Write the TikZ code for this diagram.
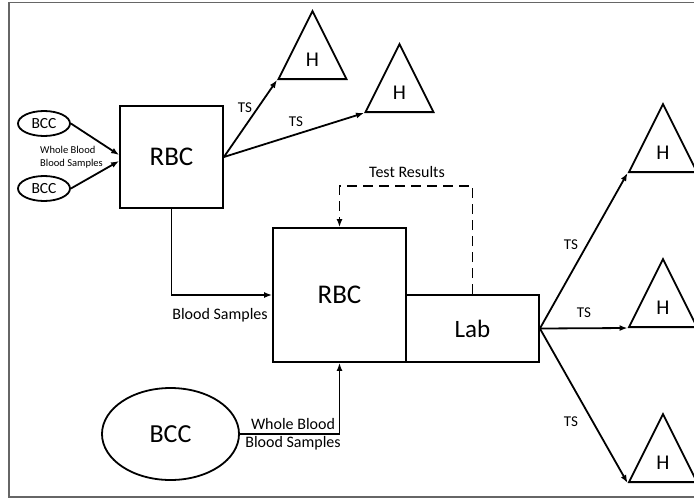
\documentclass[tikz,border=0pt]{standalone}
\usepackage{fontspec}
\setmainfont{Carlito}
\usepackage{tikz}
\usetikzlibrary{arrows.meta,positioning,shapes.geometric,calc}

\begin{document}
\begin{tikzpicture}[x=1pt,y=-1pt, line width=1.8pt,
  every node/.style={font=\fontsize{15}{17}\selectfont},
  box/.style={draw, rectangle, inner sep=0pt, font=\fontsize{27}{29}\selectfont},
  bcc/.style={draw, ellipse, inner sep=0pt},
  hosp/.style={draw, isosceles triangle, shape border rotate=90, isosceles triangle stretches, minimum width=68pt, minimum height=68pt, inner sep=0pt, anchor=lower side, font=\fontsize{21}{23}\selectfont},
  flow/.style={-{Latex[length=8pt,width=6pt]}},
  lbl/.style={font=\fontsize{16}{18}\selectfont}]
\clip (0,0) rectangle (694,499);
\draw[black!60, line width=1.4pt] (9,2.5) rectangle (720,497);
\node[bcc, minimum width=52pt, minimum height=25pt, font=\fontsize{15.5}{17}\selectfont] (bcca) at (44,123.5) {BCC};
\node[bcc, minimum width=52pt, minimum height=25pt, font=\fontsize{15.5}{17}\selectfont] (bccb) at (44,188.5) {BCC};
\node[bcc, minimum width=137pt, minimum height=92pt, font=\fontsize{26}{28}\selectfont] (bccc) at (170.5,434) {BCC};
\node[box, minimum width=103pt, minimum height=102pt] (rbca) at (171.5,157) {RBC};
\node[box, minimum width=133pt, minimum height=134pt] (rbcb) at (339.5,295) {RBC};
\node[box, minimum width=133pt, minimum height=67pt, font=\fontsize{25}{27}\selectfont] (lab) at (472.5,328.5) {Lab};
\node[hosp] (hosa) at (312.5,80) {H};
\node[hosp] (hosb) at (399.5,113) {H};
\node[hosp] (hosc) at (663,173) {H};
\node[hosp] (hosd) at (663,328) {H};
\node[hosp] (hose) at (663,483) {H};
\draw[flow] (bcca.east) -- ([yshift=2pt]rbca.west);
\draw[flow] (bccb.east) -- ([yshift=-4pt]rbca.west);
\draw[flow] (rbca.east) -- (hosa.left corner);
\draw[flow] (rbca.east) -- (hosb.left corner);
\draw[flow] (rbca.south) |- (rbcb.west);
\draw[flow] (bccc.east) -| (rbcb.south);
\draw[flow, dashed, dash pattern=on 10pt off 6pt] (lab.north) -- ++(0,-108) -| (rbcb.north);
\draw[flow] (lab.east) -- (hosc.left corner);
\draw[flow] (lab.east) -- (hosd.left corner);
\draw[flow] (lab.east) -- (hose.left corner);
\node[anchor=west, font=\fontsize{10.5}{13}\selectfont, align=left] (wbs) at (36,157) {Whole Blood\\Blood Samples};
\node (tsa) at (245,108) {TS};
\node (tsb) at (296,122) {TS};
\node[lbl] (tr) at (407,172) {Test Results};
\node[lbl] (bs) at (220,315) {Blood Samples};
\node[lbl] (wb) at (293,424) {Whole Blood};
\node[lbl] (bsb) at (293,443) {Blood Samples};
\node (tsc) at (571,245) {TS};
\node (tsd) at (584,313) {TS};
\node (tse) at (571,422) {TS};
\end{tikzpicture}
\end{document}
